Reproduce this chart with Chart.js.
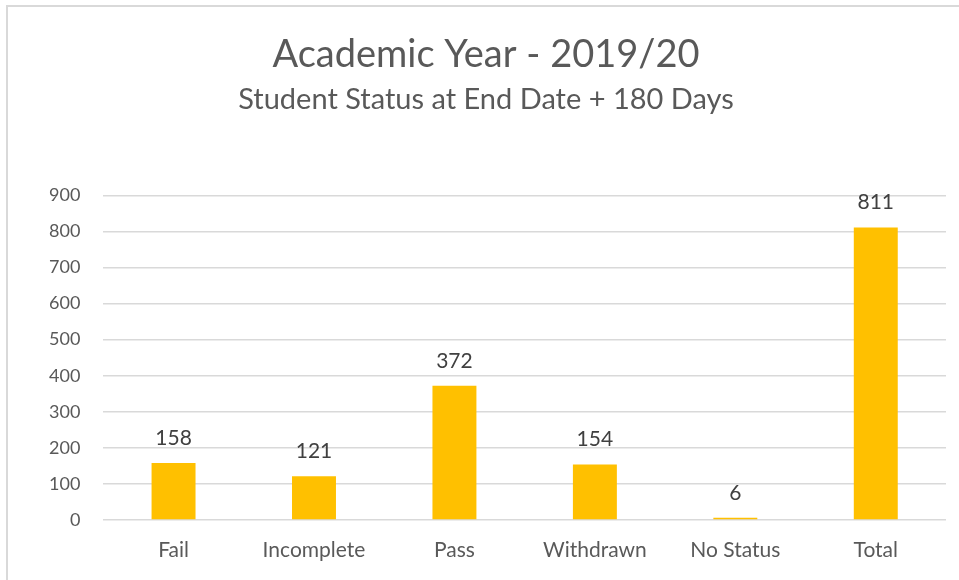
<!DOCTYPE html>
<html>
<head>
<meta charset="utf-8">
<script src="https://cdn.jsdelivr.net/npm/chart.js@4"></script>
<style>
  html, body { margin: 0; padding: 0; background: #fff; }
  #wrap { position: relative; width: 959px; height: 580px; }
  #frame { position: absolute; left: 6px; top: 5px; right: 0; bottom: 0;
           border-left: 2px solid #d9d9d9; border-top: 2px solid #d9d9d9; pointer-events: none; }
</style>
</head>
<body>
<div id="wrap">
  <canvas id="chart" width="959" height="580"></canvas>
  <div id="frame"></div>
</div>
<script>
const categories = ['Fail', 'Incomplete', 'Pass', 'Withdrawn', 'No Status', 'Total'];
const students = [158, 121, 372, 154, 6, 811];
const yTicks = [0, 100, 200, 300, 400, 500, 600, 700, 800, 900];

const FONT = 'Lato, "Open Sans", sans-serif';

// value labels above each bar
const barLabels = {
  id: 'barLabels',
  afterDatasetsDraw(chart) {
    const ctx = chart.ctx;
    const meta = chart.getDatasetMeta(0);
    ctx.save();
    ctx.font = '21px ' + FONT;
    ctx.fillStyle = '#404040';
    ctx.textAlign = 'center';
    ctx.textBaseline = 'alphabetic';
    meta.data.forEach((bar, i) => {
      ctx.fillText(String(students[i]), bar.x, bar.y - 18);
    });
    ctx.restore();
  }
};

new Chart(document.getElementById('chart'), {
  type: 'bar',
  data: {
    labels: categories,
    datasets: [{
      data: students,
      backgroundColor: '#FFC000',
      borderWidth: 0,
      barPercentage: 0.626,
      categoryPercentage: 0.5
    }]
  },
  options: {
    responsive: false,
    animation: false,
    layout: { padding: { left: 26, right: 13, top: 0, bottom: 0 } },
    plugins: {
      legend: { display: false },
      tooltip: { enabled: false },
      title: {
        display: true,
        text: 'Academic Year - 2019/20',
        color: '#595959',
        font: { family: FONT, size: 38, weight: 'normal' },
        padding: { top: 32, bottom: 5 }
      },
      subtitle: {
        display: true,
        text: 'Student Status at End Date + 180 Days',
        color: '#595959',
        font: { family: FONT, size: 29, weight: 'normal' },
        padding: { top: 0, bottom: 78 }
      }
    },
    scales: {
      x: {
        grid: { display: false, drawTicks: false },
        border: { display: false },
        ticks: { color: '#595959', font: { family: FONT, size: 21, lineHeight: 1.05 }, padding: 19 }
      },
      y: {
        min: 0,
        max: 900,
        afterBuildTicks(axis) { axis.ticks = yTicks.map(v => ({ value: v })); },
        grid: { color: '#d9d9d9', lineWidth: 1.5, drawTicks: false },
        border: { display: false },
        ticks: { color: '#595959', font: { family: FONT, size: 18 }, padding: 23 }
      }
    }
  },
  plugins: [barLabels]
});
</script>
</body>
</html>
